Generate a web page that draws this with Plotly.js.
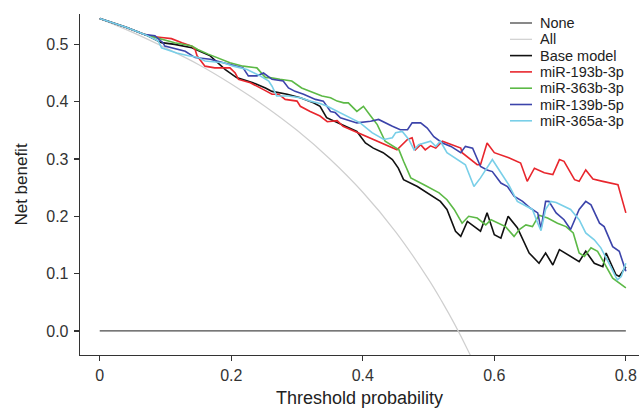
<!DOCTYPE html>
<html>
<head>
<meta charset="utf-8">
<script src="https://cdn.plot.ly/plotly-3.0.1.min.js"></script>
<style>html,body{margin:0;padding:0;background:#fff;}#chart{width:639px;height:408px;}</style>
</head>
<body>
<div id="chart"></div>
<script>
// Threshold probabilities and net benefit values
const noneX = [0, 0.8];
const noneY = [0, 0];

const allX = [0, 0.05, 0.1, 0.15, 0.2, 0.25, 0.3, 0.35, 0.4, 0.45, 0.5, 0.52, 0.54, 0.56, 0.58];
const allY = [0.545, 0.521, 0.494, 0.465, 0.431, 0.393, 0.350, 0.300, 0.242, 0.173, 0.090, 0.052, 0.011, -0.034, -0.083];

const baseX = [0, 0.04, 0.069, 0.094, 0.114, 0.14, 0.168, 0.183, 0.191, 0.208, 0.233, 0.252, 0.262, 0.285, 0.305, 0.325, 0.335, 0.345, 0.355, 0.373, 0.391, 0.404, 0.416, 0.431, 0.445, 0.454, 0.462, 0.483, 0.503, 0.518, 0.528, 0.541, 0.549, 0.559, 0.579, 0.589, 0.6, 0.61, 0.621, 0.635, 0.653, 0.668, 0.678, 0.689, 0.699, 0.716, 0.729, 0.739, 0.752, 0.765, 0.77, 0.785, 0.79, 0.8];
const baseY = [0.545, 0.530, 0.517, 0.503, 0.500, 0.494, 0.480, 0.465, 0.456, 0.442, 0.433, 0.424, 0.418, 0.413, 0.407, 0.398, 0.392, 0.372, 0.367, 0.357, 0.348, 0.328, 0.319, 0.311, 0.299, 0.284, 0.264, 0.252, 0.238, 0.226, 0.212, 0.174, 0.165, 0.191, 0.174, 0.206, 0.168, 0.162, 0.200, 0.180, 0.136, 0.118, 0.136, 0.115, 0.142, 0.130, 0.121, 0.139, 0.118, 0.112, 0.136, 0.098, 0.095, 0.112];

const redX = [0, 0.04, 0.069, 0.084, 0.094, 0.109, 0.125, 0.14, 0.145, 0.148, 0.16, 0.175, 0.198, 0.206, 0.211, 0.229, 0.249, 0.262, 0.272, 0.282, 0.3, 0.305, 0.32, 0.335, 0.346, 0.361, 0.37, 0.452, 0.468, 0.475, 0.48, 0.488, 0.495, 0.503, 0.511, 0.521, 0.549, 0.551, 0.574, 0.579, 0.589, 0.6, 0.622, 0.64, 0.65, 0.661, 0.676, 0.689, 0.699, 0.706, 0.722, 0.729, 0.739, 0.75, 0.765, 0.788, 0.8];
const redY = [0.545, 0.530, 0.517, 0.513, 0.512, 0.510, 0.503, 0.497, 0.491, 0.480, 0.462, 0.459, 0.459, 0.450, 0.439, 0.433, 0.421, 0.413, 0.413, 0.404, 0.401, 0.392, 0.383, 0.375, 0.365, 0.367, 0.357, 0.316, 0.334, 0.337, 0.316, 0.325, 0.316, 0.323, 0.319, 0.331, 0.319, 0.311, 0.290, 0.290, 0.328, 0.311, 0.302, 0.293, 0.261, 0.284, 0.276, 0.273, 0.299, 0.296, 0.264, 0.261, 0.281, 0.265, 0.261, 0.255, 0.206];

const greenX = [0, 0.04, 0.069, 0.094, 0.114, 0.14, 0.149, 0.165, 0.183, 0.198, 0.218, 0.239, 0.252, 0.259, 0.274, 0.292, 0.307, 0.32, 0.338, 0.351, 0.361, 0.371, 0.378, 0.391, 0.401, 0.412, 0.422, 0.434, 0.442, 0.455, 0.462, 0.473, 0.493, 0.503, 0.516, 0.528, 0.539, 0.551, 0.561, 0.574, 0.587, 0.595, 0.607, 0.617, 0.63, 0.638, 0.648, 0.658, 0.668, 0.681, 0.696, 0.709, 0.72, 0.729, 0.737, 0.747, 0.757, 0.77, 0.78, 0.8];
const greenY = [0.545, 0.530, 0.517, 0.509, 0.503, 0.497, 0.491, 0.483, 0.475, 0.468, 0.462, 0.459, 0.442, 0.442, 0.439, 0.436, 0.424, 0.418, 0.410, 0.407, 0.401, 0.398, 0.398, 0.383, 0.392, 0.375, 0.360, 0.331, 0.325, 0.316, 0.296, 0.267, 0.255, 0.249, 0.241, 0.229, 0.212, 0.188, 0.200, 0.197, 0.185, 0.194, 0.188, 0.182, 0.165, 0.177, 0.185, 0.182, 0.202, 0.197, 0.188, 0.182, 0.171, 0.136, 0.130, 0.145, 0.139, 0.112, 0.092, 0.075];

const blueX = [0, 0.04, 0.069, 0.084, 0.096, 0.099, 0.13, 0.145, 0.168, 0.198, 0.218, 0.226, 0.239, 0.249, 0.262, 0.279, 0.287, 0.297, 0.31, 0.328, 0.34, 0.351, 0.358, 0.366, 0.391, 0.412, 0.424, 0.445, 0.457, 0.468, 0.475, 0.488, 0.498, 0.508, 0.521, 0.534, 0.549, 0.556, 0.567, 0.579, 0.589, 0.597, 0.61, 0.62, 0.63, 0.643, 0.655, 0.666, 0.671, 0.678, 0.683, 0.694, 0.706, 0.716, 0.729, 0.739, 0.747, 0.76, 0.767, 0.78, 0.79, 0.8];
const blueY = [0.545, 0.530, 0.517, 0.515, 0.503, 0.497, 0.488, 0.477, 0.474, 0.465, 0.459, 0.445, 0.445, 0.450, 0.439, 0.436, 0.424, 0.418, 0.413, 0.404, 0.401, 0.383, 0.381, 0.372, 0.363, 0.366, 0.369, 0.357, 0.351, 0.351, 0.363, 0.363, 0.354, 0.339, 0.328, 0.322, 0.311, 0.322, 0.319, 0.287, 0.281, 0.278, 0.258, 0.252, 0.235, 0.226, 0.214, 0.206, 0.178, 0.226, 0.226, 0.206, 0.194, 0.177, 0.212, 0.226, 0.220, 0.188, 0.182, 0.147, 0.139, 0.104];

const lblueX = [0, 0.04, 0.069, 0.089, 0.094, 0.117, 0.135, 0.15, 0.16, 0.175, 0.188, 0.203, 0.224, 0.244, 0.257, 0.262, 0.269, 0.287, 0.305, 0.32, 0.335, 0.346, 0.361, 0.381, 0.396, 0.414, 0.432, 0.445, 0.45, 0.46, 0.47, 0.478, 0.485, 0.503, 0.511, 0.518, 0.528, 0.556, 0.569, 0.579, 0.597, 0.61, 0.622, 0.635, 0.645, 0.658, 0.666, 0.671, 0.678, 0.686, 0.694, 0.716, 0.729, 0.739, 0.752, 0.762, 0.777, 0.787, 0.793, 0.8];
const lblueY = [0.545, 0.530, 0.517, 0.506, 0.494, 0.485, 0.480, 0.477, 0.471, 0.470, 0.468, 0.462, 0.456, 0.445, 0.436, 0.427, 0.410, 0.410, 0.407, 0.401, 0.397, 0.392, 0.383, 0.372, 0.363, 0.346, 0.334, 0.337, 0.346, 0.348, 0.334, 0.316, 0.325, 0.331, 0.322, 0.331, 0.311, 0.290, 0.252, 0.267, 0.299, 0.276, 0.255, 0.226, 0.220, 0.212, 0.188, 0.175, 0.212, 0.226, 0.224, 0.212, 0.194, 0.171, 0.159, 0.145, 0.112, 0.089, 0.095, 0.118];

const seriesNames = ['None', 'All', 'Base model', 'miR-193b-3p', 'miR-363b-3p', 'miR-139b-5p', 'miR-365a-3p'];

const xTicks = [0, 0.2, 0.4, 0.6, 0.8];
const xTickText = ['0', '0.2', '0.4', '0.6', '0.8'];
const yTicks = [0, 0.1, 0.2, 0.3, 0.4, 0.5];
const yTickText = ['0.0', '0.1', '0.2', '0.3', '0.4', '0.5'];

const FONT = 'Liberation Sans, Arial, Helvetica, sans-serif';
const colors = ['#4a4a4a', '#cfcfcf', '#111111', '#e8262d', '#5cb946', '#3c44aa', '#79cfe8'];
const widths = [1.3, 1.2, 1.6, 1.6, 1.6, 1.6, 1.6];
const xs = [noneX, allX, baseX, redX, greenX, blueX, lblueX];
const ys = [noneY, allY, baseY, redY, greenY, blueY, lblueY];

const traces = seriesNames.map((n, i) => ({
  x: xs[i], y: ys[i], name: n, type: 'scatter', mode: 'lines',
  line: {color: colors[i], width: widths[i], shape: i === 1 ? 'spline' : 'linear'},
  hoverinfo: 'skip', showlegend: false
}));

// Compact legend (ggplot-style spacing) built from series names/colours
const W = 639, H = 408, M = {l: 80, r: 0, t: 14, b: 53};
const pw = W - M.l - M.r, ph = H - M.t - M.b;
const px2x = p => (p - M.l) / pw;
const py2y = p => (H - M.b - p) / ph;
const legTop = 23, legStep = 16.3;
const shapes = [], annotations = [];
seriesNames.forEach((n, i) => {
  const yy = py2y(legTop + i * legStep);
  shapes.push({type: 'line', xref: 'paper', yref: 'paper', x0: px2x(510), x1: px2x(532), y0: yy, y1: yy,
    line: {color: colors[i], width: widths[i]}});
  annotations.push({xref: 'paper', yref: 'paper', x: px2x(538), y: yy, xanchor: 'left', yanchor: 'middle',
    text: n, showarrow: false, font: {family: FONT, size: 14.5, color: '#222222'}});
});

const layout = {
  width: W, height: H,
  margin: M,
  paper_bgcolor: '#ffffff', plot_bgcolor: '#ffffff',
  font: {family: FONT, size: 15, color: '#333333'},
  showlegend: false,
  shapes: shapes,
  annotations: annotations,
  xaxis: {
    range: [-0.03, 0.82],
    tickvals: xTicks, ticktext: xTickText,
    showgrid: false, zeroline: false,
    showline: true, linecolor: '#333333', linewidth: 1.3,
    ticks: 'outside', ticklen: 5, tickcolor: '#333333', tickwidth: 1.3,
    tickfont: {family: FONT, size: 16, color: '#333333'},
    title: {text: 'Threshold probability', font: {family: FONT, size: 18, color: '#222222'}, standoff: 11}
  },
  yaxis: {
    range: [-0.042, 0.553],
    tickvals: yTicks, ticktext: yTickText,
    showgrid: false, zeroline: false,
    showline: true, linecolor: '#333333', linewidth: 1.3,
    ticks: 'outside', ticklen: 5, tickcolor: '#333333', tickwidth: 1.3,
    ticklabelstandoff: 2,
    tickfont: {family: FONT, size: 16, color: '#333333'},
    title: {text: 'Net benefit', font: {family: FONT, size: 17, color: '#222222'}, standoff: 14}
  }
};

Plotly.newPlot('chart', traces, layout, {displayModeBar: false, staticPlot: true});
</script>
</body>
</html>
